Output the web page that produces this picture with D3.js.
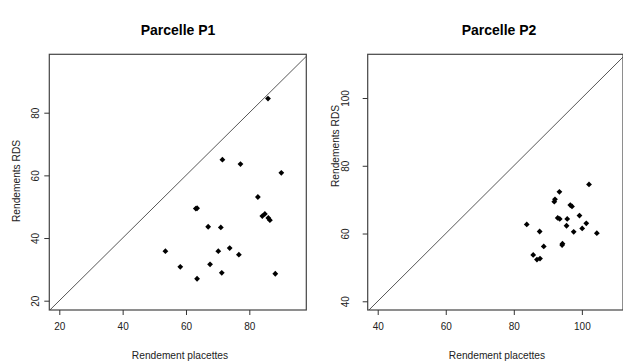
<!DOCTYPE html>
<html>
<head>
<meta charset="utf-8">
<script src="https://cdn.jsdelivr.net/npm/d3@7/dist/d3.min.js"></script>
<style>
  html, body { margin: 0; padding: 0; background: #fff; }
  svg { display: block; }
  text { font-family: "Liberation Sans", Arial, sans-serif; }
</style>
</head>
<body>
<svg id="chart" width="623" height="363"></svg>
<script>
// ---- Data ----
const titles = ["Parcelle P1", "Parcelle P2"];
const xLabel = "Rendement placettes";
const yLabel = "Rendements RDS";

const p1x = [85.9, 71.5, 77.2, 90.1, 82.7, 63.1, 63.5, 84.1, 84.9, 86.0, 86.5, 67.0, 71.0, 53.5, 70.2, 73.8, 76.7, 58.2, 67.6, 63.5, 71.3, 88.2];
const p1y = [84.5, 65.0, 63.6, 60.8, 53.1, 49.4, 49.5, 47.0, 47.7, 46.4, 45.7, 43.6, 43.4, 35.8, 35.8, 36.8, 34.7, 30.8, 31.6, 27.0, 28.9, 28.6];

const p2x = [102.1, 93.4, 92.1, 91.9, 96.6, 97.1, 92.9, 93.5, 95.7, 99.3, 83.8, 95.5, 101.3, 100.1, 97.6, 104.4, 87.6, 94.3, 94.2, 88.8, 85.7, 86.8, 87.7];
const p2y = [74.5, 72.3, 70.1, 69.4, 68.4, 68.0, 64.6, 64.3, 64.3, 65.3, 62.7, 62.3, 63.0, 61.5, 60.5, 60.1, 60.6, 57.0, 56.6, 56.2, 53.7, 52.3, 52.6];

const p1Ticks = [20, 40, 60, 80];
const p2Ticks = [40, 60, 80, 100];

// ---- Layout ----
const panels = [
  { title: titles[0], xs: p1x, ys: p1y, ticks: p1Ticks,
    xDom: [16.84, 97.99], yDom: [17.03, 98.64],
    left: 49.3, right: 306.3, top: 54.3, bottom: 310,
    yTickX: 39.3, yLabX: 19.8, yLabY: 181, titleX: 178, xLabX: 180 },
  { title: titles[1], xs: p2x, ys: p2y, ticks: p2Ticks,
    xDom: [37.06, 112.09], yDom: [37.43, 112.9],
    left: 367.7, right: 623, top: 54.3, bottom: 310,
    yTickX: 349, yLabX: 339.3, yLabY: 146, titleX: 499, xLabX: 497 }
];

const svg = d3.select("#chart");
const FONT = "'Liberation Sans', Arial, sans-serif";

panels.forEach((p, i) => {
  const x = d3.scaleLinear().domain(p.xDom).range([p.left, p.right]);
  const y = d3.scaleLinear().domain(p.yDom).range([p.bottom, p.top]);
  const g = svg.append("g");

  const clipId = "clip" + i;
  svg.append("clipPath").attr("id", clipId)
    .append("rect").attr("x", p.left).attr("y", p.top)
    .attr("width", p.right - p.left).attr("height", p.bottom - p.top);

  // diagonal y = x
  const lo = Math.min(p.xDom[0], p.yDom[0]), hi = Math.max(p.xDom[1], p.yDom[1]);
  g.append("line")
    .attr("clip-path", `url(#${clipId})`)
    .attr("x1", x(lo)).attr("y1", y(lo))
    .attr("x2", x(hi)).attr("y2", y(hi))
    .attr("stroke", "#444").attr("stroke-width", 0.9);

  // box
  g.append("rect")
    .attr("x", p.left).attr("y", p.top)
    .attr("width", p.right - p.left).attr("height", p.bottom - p.top)
    .attr("fill", "none").attr("stroke", "#444").attr("stroke-width", 1.2);

  // x axis
  const xAxis = d3.axisBottom(x).tickValues(p.ticks).tickSize(5).tickFormat(d3.format("d"));
  const xa = g.append("g").attr("transform", `translate(0,${p.bottom})`).call(xAxis);
  xa.select(".domain").remove();
  xa.selectAll(".tick line").attr("stroke", "#333");
  xa.selectAll(".tick text").attr("font-size", 10).attr("fill", "#222")
    .attr("font-family", FONT).attr("y", 20.3).attr("dy", null);

  // y axis
  const yAxis = d3.axisLeft(y).tickValues(p.ticks).tickSize(5).tickFormat(d3.format("d"));
  const ya = g.append("g").attr("transform", `translate(${p.left},0)`).call(yAxis);
  ya.select(".domain").remove();
  ya.selectAll(".tick line").attr("stroke", "#333");
  ya.selectAll(".tick text")
    .attr("font-size", 10).attr("fill", "#222")
    .attr("font-family", FONT)
    .attr("x", null).attr("dy", null)
    .attr("text-anchor", "middle")
    .attr("transform", `translate(${p.yTickX - p.left},0) rotate(-90)`);

  // points (filled diamonds)
  const r = 2.9;
  g.selectAll("path.pt").data(p.xs.map((v, k) => [v, p.ys[k]]))
    .enter().append("path")
    .attr("class", "pt")
    .attr("d", d => {
      const cx = x(d[0]), cy = y(d[1]);
      return `M${cx},${cy - r}L${cx + r},${cy}L${cx},${cy + r}L${cx - r},${cy}Z`;
    })
    .attr("fill", "#000");

  // title
  svg.append("text").attr("x", p.titleX).attr("y", 35)
    .attr("text-anchor", "middle").attr("font-size", 14).attr("font-weight", "bold")
    .attr("fill", "#000").text(p.title);

  // x label
  svg.append("text").attr("x", p.xLabX).attr("y", 358.5)
    .attr("text-anchor", "middle").attr("font-size", 10.2).attr("fill", "#222")
    .text(xLabel);

  // y label
  svg.append("text")
    .attr("transform", `translate(${p.yLabX},${p.yLabY}) rotate(-90)`)
    .attr("text-anchor", "middle").attr("font-size", 10.2).attr("fill", "#222")
    .text(yLabel);
});
</script>
</body>
</html>
